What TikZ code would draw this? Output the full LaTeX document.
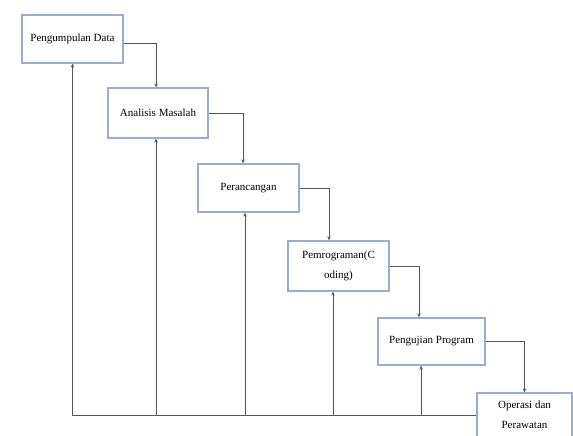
\documentclass[tikz,border=0pt]{standalone}
\usepackage{fontspec}
\setmainfont{Liberation Serif}
\usetikzlibrary{arrows.meta,calc}
\definecolor{boxline}{HTML}{9DAECB}
\definecolor{conn}{HTML}{555555}
\tikzset{
  stepbox/.style={draw=boxline, line width=1.3pt, fill=white, rectangle,
    inner sep=0pt, align=center, font=\fontsize{11}{20}\selectfont, text=black},
  flow/.style={draw=conn, line width=0.9pt, -{Stealth[length=4pt,width=3.5pt]}},
  plain/.style={draw=conn, line width=0.9pt}
}
\begin{document}
\begin{tikzpicture}[x=1pt,y=-1pt]
\useasboundingbox (0,0) rectangle (573,436);
\node[stepbox, minimum width=101pt, minimum height=48pt] (b1) at (72.5,39) {Pengumpulan Data};
\node[stepbox, minimum width=100pt, minimum height=50pt] (b2) at (158,113) {Analisis Masalah};
\node[stepbox, minimum width=101pt, minimum height=48pt] (b3) at (248.5,188) {Perancangan};
\node[stepbox, minimum width=101pt, minimum height=50pt] (b4) at (338.5,266) {Pemrograman(C\\oding)};
\node[stepbox, minimum width=107pt, minimum height=47pt] (b5) at (431.5,341.5) {Pengujian Program};
\node[stepbox, minimum width=95pt, minimum height=44pt] (b6) at (524.5,415) {Operasi dan\\Perawatan};
% forward connectors
\draw[flow] ([yshift=-4pt]b1.east) -| ([xshift=-2pt]b2.north);
\draw[flow] (b2.east) -| ([xshift=-5.5pt]b3.north);
\draw[flow] (b3.east) -| ([xshift=-9.5pt]b4.north);
\draw[flow] (b4.east) -| ([xshift=-12.5pt]b5.north);
\draw[flow] (b5.east) -| (b6.north);
% feedback line
\draw[flow] (b6.west) -| (b1.south);
\draw[flow] ([xshift=-2pt]b2.south |- b6.west) -- ([xshift=-2pt]b2.south);
\draw[flow] ([xshift=-3.5pt]b3.south |- b6.west) -- ([xshift=-3.5pt]b3.south);
\draw[flow] ([xshift=-5.5pt]b4.south |- b6.west) -- ([xshift=-5.5pt]b4.south);
\draw[flow] ([xshift=-10.5pt]b5.south |- b6.west) -- ([xshift=-10.5pt]b5.south);
\end{tikzpicture}
\end{document}
